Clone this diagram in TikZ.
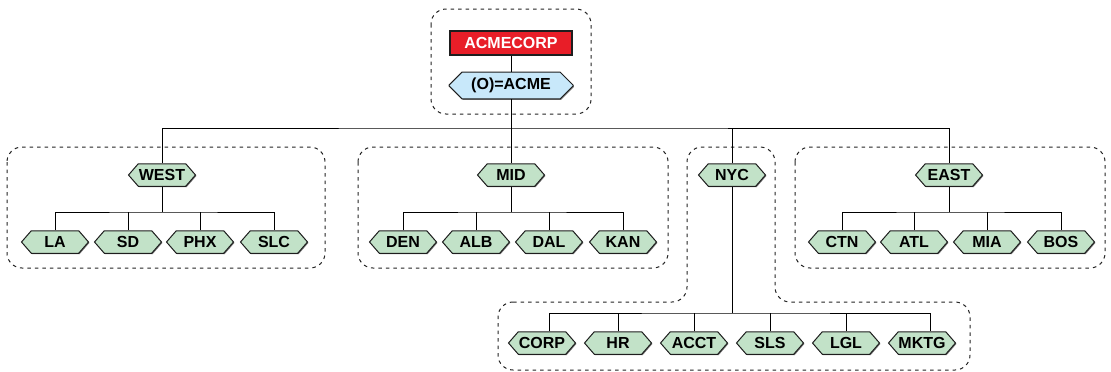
\documentclass[tikz,border=0pt]{standalone}
\usepackage{fontspec}
\setmainfont{Liberation Sans}
\usetikzlibrary{shapes.symbols,shapes.misc,shadows}
\definecolor{leafgreen}{RGB}{194,226,200}
\definecolor{rootblue}{RGB}{200,232,250}
\definecolor{corpred}{RGB}{232,30,40}
\definecolor{edgegray}{RGB}{30,30,30}
\definecolor{boxgray}{RGB}{35,35,35}
\begin{document}
\begin{tikzpicture}[x=1pt,y=-1pt,
  lbl/.style={font=\fontsize{16}{17}\selectfont\bfseries},
  shd/.style={drop shadow={shadow xshift=0.9pt, shadow yshift=-0.9pt, fill=black!55, opacity=1}},
  hexnode/.style={lbl, signal, signal to=east and west, signal pointer angle=98,
    draw=edgegray, fill=leafgreen, line width=1pt, minimum width=67pt,
    minimum height=22.5pt, inner sep=0pt, shd},
  rootrect/.style={lbl, rectangle, draw=edgegray, fill=corpred, text=white,
    line width=1.1pt, minimum width=122pt, minimum height=24pt, inner sep=0pt, shd},
  rootoct/.style={lbl, chamfered rectangle, chamfered rectangle xsep=7pt,
    chamfered rectangle ysep=6pt, draw=edgegray, fill=rootblue, line width=1pt,
    minimum width=124pt, minimum height=23pt, inner sep=0pt, shd},
  conn/.style={draw=black, line width=1pt},
  grp/.style={draw=boxgray, line width=1pt, dash pattern=on 3.5pt off 4pt,
    rounded corners=15pt}]
\useasboundingbox (0,0) rectangle (1111,372);

% group outlines
\draw[grp] (431,9) rectangle (591,114);
\draw[grp] (7,147) rectangle (325,268);
\draw[grp] (358,147) rectangle (668,268);
\draw[grp] (795,147) rectangle (1105,268);
\draw[grp] (498,302) -- (687,302) -- (687,147) -- (775,147) -- (775,302)
  -- (970,302) -- (970,370) -- (498,370) -- cycle;

% bus coordinates
\coordinate (mainbus) at (511,128);
\coordinate (wbus) at (162,212);
\coordinate (mbus) at (511,212);
\coordinate (ebus) at (949,212);
\coordinate (nbus) at (732,313);

% nodes
\node[rootrect] (corp) at (511,43) {ACMECORP};
\node[rootoct] (o) at (511,85.5) {(O)=ACME};

\node[hexnode] (west) at (162,175) {WEST};
\node[hexnode] (mid) at (511,175) {MID};
\node[hexnode] (nyc) at (732,175) {NYC};
\node[hexnode] (east) at (949,175) {EAST};

\node[hexnode] (la) at (55,242) {LA};
\node[hexnode] (sd) at (128,242) {SD};
\node[hexnode] (phx) at (200,242) {PHX};
\node[hexnode] (slc) at (274,242) {SLC};

\node[hexnode] (den) at (403,242) {DEN};
\node[hexnode] (alb) at (476,242) {ALB};
\node[hexnode] (dal) at (549,242) {DAL};
\node[hexnode] (kan) at (623,242) {KAN};

\node[hexnode] (ctn) at (842,242) {CTN};
\node[hexnode] (atl) at (914,242) {ATL};
\node[hexnode] (mia) at (987,242) {MIA};
\node[hexnode] (bos) at (1061,242) {BOS};

\node[hexnode] (ncorp) at (542,343) {CORP};
\node[hexnode] (hr) at (618,343) {HR};
\node[hexnode] (acct) at (694,343) {ACCT};
\node[hexnode] (sls) at (770,343) {SLS};
\node[hexnode] (lgl) at (846,343) {LGL};
\node[hexnode] (mktg) at (922,343) {MKTG};

% connectors
\draw[conn] (corp.south) -- (o.north);
\draw[conn] (o.south) -- (mainbus);
\draw[conn] (west.north) |- (mainbus) -| (east.north);
\draw[conn] (mid.north) -- (mid.north |- mainbus);
\draw[conn] (nyc.north) -- (nyc.north |- mainbus);

\draw[conn] (west.south) -- (wbus);
\draw[conn] (la.north) |- (wbus) -| (slc.north);
\draw[conn] (sd.north) -- (sd.north |- wbus);
\draw[conn] (phx.north) -- (phx.north |- wbus);

\draw[conn] (mid.south) -- (mbus);
\draw[conn] (den.north) |- (mbus) -| (kan.north);
\draw[conn] (alb.north) -- (alb.north |- mbus);
\draw[conn] (dal.north) -- (dal.north |- mbus);

\draw[conn] (east.south) -- (ebus);
\draw[conn] (ctn.north) |- (ebus) -| (bos.north);
\draw[conn] (atl.north) -- (atl.north |- ebus);
\draw[conn] (mia.north) -- (mia.north |- ebus);

\draw[conn] (nyc.south) -- (nbus);
\draw[conn] ([xshift=7pt]ncorp.north) |- (nbus) -| ([xshift=8pt]mktg.north);
\draw[conn] (hr.north) -- (hr.north |- nbus);
\draw[conn] (acct.north) -- (acct.north |- nbus);
\draw[conn] (sls.north) -- (sls.north |- nbus);
\draw[conn] (lgl.north) -- (lgl.north |- nbus);
\end{tikzpicture}
\end{document}
